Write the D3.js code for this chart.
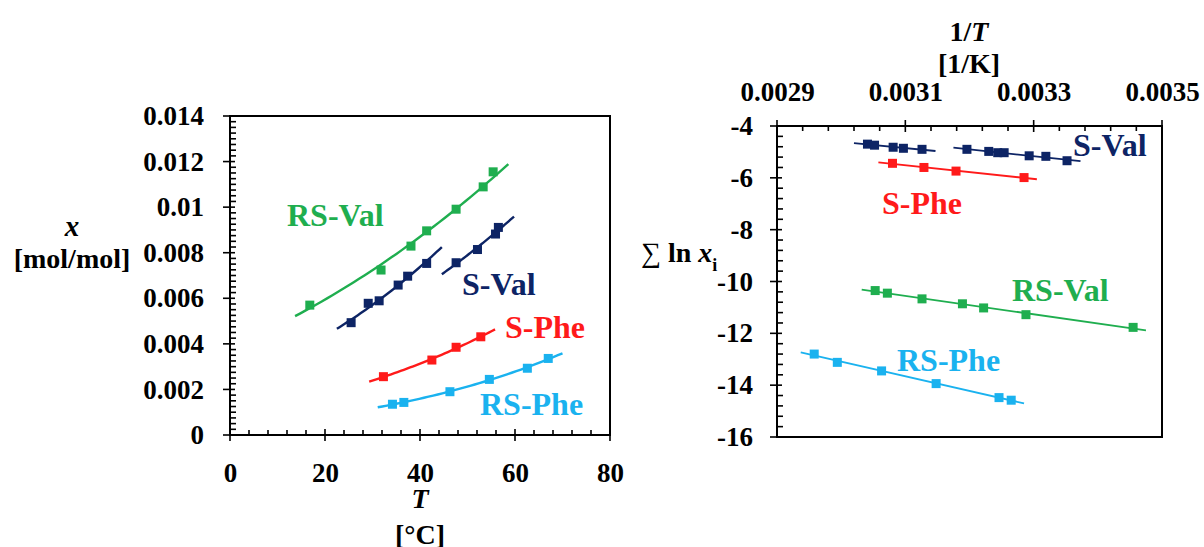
<!DOCTYPE html>
<html>
<head>
<meta charset="utf-8">
<script src="https://cdn.jsdelivr.net/npm/d3@7"></script>
<style>
  html, body { margin: 0; padding: 0; background: #fff; }
  svg { display: block; }
  text { font-family: "Liberation Serif", "Times New Roman", serif; font-weight: bold; fill: #000; }
</style>
</head>
<body>
<svg id="chart" width="1204" height="547"></svg>
<script>
// ---------------- DATA ----------------
// Left panel: mole-fraction solubility x vs temperature T (°C)
const tempTicks = [0, 20, 40, 60, 80];
const moleTicks = [0, 0.002, 0.004, 0.006, 0.008, 0.01, 0.012, 0.014];
const moleTickLabels = ["0", "0.002", "0.004", "0.006", "0.008", "0.01", "0.012", "0.014"];

const rsValT = [16.8, 31.8, 38.1, 41.4, 47.6, 53.3, 55.4];
const rsValX = [0.0057, 0.00724, 0.00829, 0.00896, 0.00991, 0.01089, 0.01155];
const rsValRange = [13.7, 58.6];

const sVal1T = [25.5, 29.1, 31.4, 35.4, 37.4, 41.4];
const sVal1X = [0.00493, 0.00578, 0.00589, 0.00658, 0.00697, 0.00753];
const sVal1Range = [22.5, 44.6];

const sVal2T = [47.6, 52.1, 55.9, 56.5];
const sVal2X = [0.00756, 0.00814, 0.00882, 0.00911];
const sVal2Range = [44.6, 59.8];

const sPheT = [32.3, 42.5, 47.6, 52.8];
const sPheX = [0.00256, 0.00329, 0.00385, 0.00431];
const sPheRange = [29.3, 55.8];

const rsPheT = [34.2, 36.6, 46.3, 54.6, 62.6, 67.0];
const rsPheX = [0.00135, 0.00143, 0.0019, 0.00244, 0.00293, 0.00336];
const rsPheRange = [31.1, 70.0];

// Right panel: sum ln x_i vs 1/T (1/K)
const invTTicks = [0.0029, 0.0031, 0.0033, 0.0035];
const invTTickLabels = ["0.0029", "0.0031", "0.0033", "0.0035"];
const lnTicks = [-4, -6, -8, -10, -12, -14, -16];
const lnTickLabels = ["-4", "-6", "-8", "-10", "-12", "-14", "-16"];

const sValR1Inv = [0.003041, 0.003052, 0.003081, 0.003097, 0.003126];
const sValR1Ln = [-4.70, -4.74, -4.82, -4.86, -4.90];
const sValR1Range = [0.00302, 0.003147];

const sValR2Inv = [0.003196, 0.00323, 0.003244, 0.003254, 0.003293, 0.003319, 0.003352];
const sValR2Ln = [-4.90, -4.98, -5.03, -5.03, -5.15, -5.17, -5.34];
const sValR2Range = [0.003175, 0.003373];

const sPheRInv = [0.00308, 0.003129, 0.003179, 0.003285];
const sPheRLn = [-5.44, -5.60, -5.74, -5.99];
const sPheRRange = [0.003058, 0.003305];

const rsValRInv = [0.003053, 0.003072, 0.003126, 0.003189, 0.003222, 0.003288, 0.003455];
const rsValRLn = [-10.35, -10.45, -10.67, -10.86, -11.02, -11.28, -11.77];
const rsValRRange = [0.003032, 0.003475];

const rsPheRInv = [0.002958, 0.002994, 0.003063, 0.003148, 0.003246, 0.003265];
const rsPheRLn = [-12.80, -13.12, -13.45, -13.94, -14.48, -14.58];
const rsPheRRange = [0.002937, 0.003285];

const seriesNames = ["RS-Val", "S-Val", "S-Phe", "RS-Phe"];
const colors = { "RS-Val": "#1fae4f", "S-Val": "#0d2465", "S-Phe": "#ff1a1a", "RS-Phe": "#1ab2ef" };

// ---------------- HELPERS ----------------
function linFit(xs, ys) {
  const n = xs.length, mx = d3.mean(xs), my = d3.mean(ys);
  let sxy = 0, sxx = 0;
  for (let i = 0; i < n; i++) { sxy += (xs[i] - mx) * (ys[i] - my); sxx += (xs[i] - mx) ** 2; }
  const b = sxy / sxx; return { a: my - b * mx, b };
}

const svg = d3.select("#chart");
const FONT = "27px";

function drawFrame(g, x, y) {
  const [x0, x1] = x.range(), [y0, y1] = y.range();
  g.append("rect").attr("x", Math.min(x0, x1)).attr("y", Math.min(y0, y1))
    .attr("width", Math.abs(x1 - x0)).attr("height", Math.abs(y1 - y0))
    .attr("fill", "none").attr("stroke", "#000").attr("stroke-width", 2);
}

// ---------------- LEFT PANEL ----------------
const xL = d3.scaleLinear().domain([0, 80]).range([230, 610]);
const yL = d3.scaleLinear().domain([0, 0.014]).range([435, 116]);
const gL = svg.append("g");
drawFrame(gL, xL, yL);

// minor & major ticks
const tk = gL.append("g").attr("stroke", "#000").attr("stroke-width", 1.6);
d3.range(0, 80.001, 4).forEach(v => {
  const major = tempTicks.some(t => Math.abs(t - v) < 1e-9);
  tk.append("line").attr("x1", xL(v)).attr("x2", xL(v))
    .attr("y1", yL(0) + (major ? 6 : 0)).attr("y2", yL(0) - (major ? 6 : 5));
});
d3.range(0, 0.014001, 0.00025).forEach(v => {
  const major = moleTicks.some(t => Math.abs(t - v) < 1e-9);
  tk.append("line").attr("y1", yL(v)).attr("y2", yL(v))
    .attr("x1", xL(0) - (major ? 7 : 0)).attr("x2", xL(0) + (major ? 5 : 6));
});
// tick labels via axes (no tick lines)
gL.append("g").attr("transform", `translate(0,${yL(0)})`)
  .call(d3.axisBottom(xL).tickValues(tempTicks).tickSize(0).tickPadding(28).tickFormat(d3.format("d")))
  .call(g => g.select(".domain").remove())
  .selectAll("text").style("font-size", FONT).style("font-family", "Liberation Serif, serif").style("font-weight", "bold");
gL.append("g").attr("transform", `translate(${xL(0)},0)`)
  .call(d3.axisLeft(yL).tickValues(moleTicks).tickSize(0).tickPadding(26).tickFormat((d, i) => moleTickLabels[i]))
  .call(g => g.select(".domain").remove())
  .selectAll("text").style("font-size", FONT).style("font-family", "Liberation Serif, serif").style("font-weight", "bold");

const leftSeries = [
  { name: "RS-Val", T: rsValT, X: rsValX, range: rsValRange },
  { name: "S-Val", T: sVal1T, X: sVal1X, range: sVal1Range },
  { name: "S-Val", T: sVal2T, X: sVal2X, range: sVal2Range },
  { name: "S-Phe", T: sPheT, X: sPheX, range: sPheRange },
  { name: "RS-Phe", T: rsPheT, X: rsPheX, range: rsPheRange }
];
const lineL = d3.line().x(d => xL(d[0])).y(d => yL(d[1]));
leftSeries.forEach(s => {
  // van't Hoff fit: ln x = a + b/(T+273.15)
  const f = linFit(s.T.map(t => 1 / (t + 273.15)), s.X.map(Math.log));
  const pts = d3.range(0, 41).map(i => {
    const t = s.range[0] + (s.range[1] - s.range[0]) * i / 40;
    return [t, Math.exp(f.a + f.b / (t + 273.15))];
  });
  gL.append("path").datum(pts).attr("d", lineL).attr("fill", "none")
    .attr("stroke", colors[s.name]).attr("stroke-width", 2.4);
  gL.selectAll(null).data(s.T.map((t, i) => [t, s.X[i]])).enter().append("rect")
    .attr("x", d => xL(d[0]) - 4.5).attr("y", d => yL(d[1]) - 4.5)
    .attr("width", 9).attr("height", 9).attr("fill", colors[s.name]);
});

const leftLabels = [
  { name: "RS-Val", x: 287, y: 226 },
  { name: "S-Val", x: 462, y: 295 },
  { name: "S-Phe", x: 505, y: 338 },
  { name: "RS-Phe", x: 480, y: 415 }
];
leftLabels.forEach(l => gL.append("text").attr("x", l.x).attr("y", l.y)
  .style("font-size", "32px").style("fill", colors[l.name]).text(l.name));

// axis titles left
gL.append("text").attr("x", 72).attr("y", 236).attr("text-anchor", "middle")
  .style("font-size", "29px").style("font-style", "italic").text("x");
gL.append("text").attr("x", 72).attr("y", 268).attr("text-anchor", "middle")
  .style("font-size", "28px").text("[mol/mol]");
gL.append("text").attr("x", 420).attr("y", 508).attr("text-anchor", "middle")
  .style("font-size", "28px").style("font-style", "italic").text("T");
gL.append("text").attr("x", 420).attr("y", 544).attr("text-anchor", "middle")
  .style("font-size", "28px").text("[°C]");

// ---------------- RIGHT PANEL ----------------
const xR = d3.scaleLinear().domain([0.0029, 0.0035]).range([777, 1162]);
const yR = d3.scaleLinear().domain([-4, -16]).range([126, 437]);
const gR = svg.append("g");
drawFrame(gR, xR, yR);

const tkR = gR.append("g").attr("stroke", "#000").attr("stroke-width", 1.6);
d3.range(0, 16).forEach(i => {
  const v = 0.0029 + i * 0.00004;
  const major = i % 5 === 0;
  tkR.append("line").attr("x1", xR(v)).attr("x2", xR(v))
    .attr("y1", yR(-4) - (major ? 6 : 0)).attr("y2", yR(-4) + (major ? 6 : 5));
});
d3.range(0, 31).forEach(i => {
  const v = -4 - i * 0.4;
  const major = i % 5 === 0;
  tkR.append("line").attr("y1", yR(v)).attr("y2", yR(v))
    .attr("x1", xR(0.0029) - (major ? 7 : 0)).attr("x2", xR(0.0029) + (major ? 5 : 6));
});
gR.append("g").attr("transform", `translate(0,${yR(-4)})`)
  .call(d3.axisTop(xR).tickValues(invTTicks).tickSize(0).tickPadding(25).tickFormat((d, i) => invTTickLabels[i]))
  .call(g => g.select(".domain").remove())
  .selectAll("text").style("font-size", FONT).style("font-family", "Liberation Serif, serif").style("font-weight", "bold");
gR.append("g").attr("transform", `translate(${xR(0.0029)},0)`)
  .call(d3.axisLeft(yR).tickValues(lnTicks).tickSize(0).tickPadding(24).tickFormat((d, i) => lnTickLabels[i]))
  .call(g => g.select(".domain").remove())
  .selectAll("text").style("font-size", FONT).style("font-family", "Liberation Serif, serif").style("font-weight", "bold");

const rightSeries = [
  { name: "S-Val", X: sValR1Inv, Y: sValR1Ln, range: sValR1Range },
  { name: "S-Val", X: sValR2Inv, Y: sValR2Ln, range: sValR2Range },
  { name: "S-Phe", X: sPheRInv, Y: sPheRLn, range: sPheRRange },
  { name: "RS-Val", X: rsValRInv, Y: rsValRLn, range: rsValRRange },
  { name: "RS-Phe", X: rsPheRInv, Y: rsPheRLn, range: rsPheRRange }
];
const lineR = d3.line().x(d => xR(d[0])).y(d => yR(d[1]));
rightSeries.forEach(s => {
  const f = linFit(s.X, s.Y);
  const pts = s.range.map(v => [v, f.a + f.b * v]);
  gR.append("path").datum(pts).attr("d", lineR).attr("fill", "none")
    .attr("stroke", colors[s.name]).attr("stroke-width", 1.8);
  gR.selectAll(null).data(s.X.map((v, i) => [v, s.Y[i]])).enter().append("rect")
    .attr("x", d => xR(d[0]) - 4.5).attr("y", d => yR(d[1]) - 4.5)
    .attr("width", 9).attr("height", 9).attr("fill", colors[s.name]);
});

const rightLabels = [
  { name: "S-Val", x: 1073, y: 156 },
  { name: "S-Phe", x: 882, y: 214 },
  { name: "RS-Val", x: 1012, y: 301 },
  { name: "RS-Phe", x: 897, y: 371 }
];
rightLabels.forEach(l => gR.append("text").attr("x", l.x).attr("y", l.y)
  .style("font-size", "32px").style("fill", colors[l.name]).text(l.name));

// axis titles right
const t1 = gR.append("text").attr("x", 969).attr("y", 41).attr("text-anchor", "middle").style("font-size", "28px");
t1.append("tspan").text("1/");
t1.append("tspan").style("font-style", "italic").text("T");
gR.append("text").attr("x", 969).attr("y", 73).attr("text-anchor", "middle")
  .style("font-size", "28px").text("[1/K]");
const t2 = gR.append("text").attr("x", 641).attr("y", 262).style("font-size", "28px");
t2.append("tspan").style("font-weight", "normal").text("\u2211");
t2.append("tspan").text(" ln ");
t2.append("tspan").style("font-style", "italic").text("x");
t2.append("tspan").attr("dy", 9).style("font-size", "18px").text("i");
</script>
</body>
</html>
